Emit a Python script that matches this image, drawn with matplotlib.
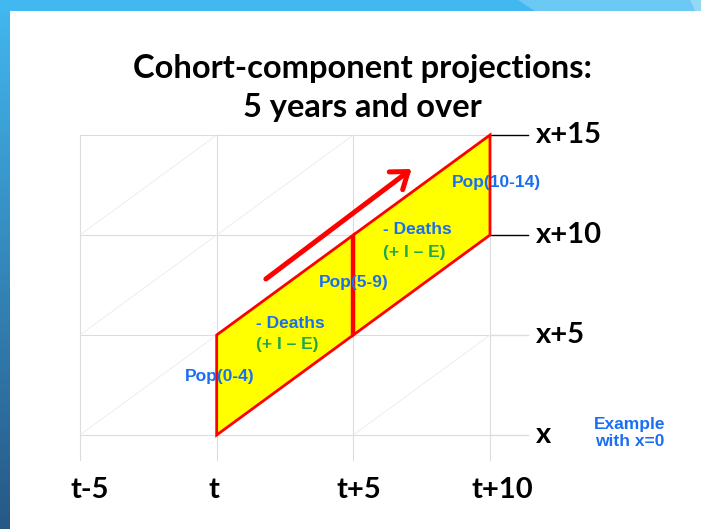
import numpy as np
import matplotlib.pyplot as plt
from matplotlib.patches import Polygon

# time axis and age axis of the Lexis diagram
times = [-5, 0, 5, 10]
time_labels = ["t-5", "t", "t+5", "t+10"]
ages = [0, 5, 10, 15]
age_labels = ["x", "x+5", "x+10", "x+15"]

# the two cohort parallelograms (start time, start age), 5 years wide
cohort_t0 = [0, 5]
cohort_a0 = [0, 5]
step = 5

pop_labels = ["Pop(0-4)", "Pop(5-9)", "Pop(10-14)"]
pop_t = [0.11, 5.0, 10.24]
pop_a = [2.95, 7.6, 12.6]

death_t = [1.43, 6.07]
death_a = [5.6, 10.25]

arrow_start = (1.8, 7.8)
arrow_end = (7.13, 13.3)

BLUE = "#1a6ff0"
GREEN = "#1ea84c"
GRID = "#dcdcdc"
DIAG = "#ebebeb"

fig = plt.figure(figsize=(7.01, 5.29), dpi=100)

# slide decoration (pixel coords)
bg = fig.add_axes([0, 0, 1, 1])
bg.set_xlim(0, 701)
bg.set_ylim(529, 0)
bg.axis("off")
grad = np.linspace(0, 1, 256).reshape(-1, 1)
top_c = np.array([0x42, 0xb8, 0xf0]) / 255.0
bot_c = np.array([0x27, 0x58, 0x86]) / 255.0
img = top_c[None, None, :] * (1 - grad[:, :, None]) + bot_c[None, None, :] * grad[:, :, None]
bg.imshow(img, extent=[0, 10, 529, 0], aspect="auto", zorder=1)
bg.add_patch(Polygon([[0, 0], [701, 0], [701, 11], [0, 11]], closed=True,
                     facecolor="#42b8f0", edgecolor="none", zorder=1))
bg.add_patch(Polygon([[518, 0], [690, 0], [695, 11], [535, 11]], closed=True,
                     facecolor="#6cc9f3", edgecolor="none", zorder=2))
bg.add_patch(Polygon([[690, 0], [701, 0], [701, 11], [695, 11]], closed=True,
                     facecolor="#94d8f7", edgecolor="none", zorder=2))

# main diagram in data coords, axes spanning the figure
ax = fig.add_axes([0, 0, 1, 1])
ax.patch.set_alpha(0)
ax.set_xlim(-7.927, 17.72)
ax.set_ylim(-4.7, 21.75)
ax.axis("off")

# light grid with diagonals
for t in times:
    ax.plot([t, t], [-1.25, ages[-1]], color=GRID, lw=0.8, zorder=1)
for a in ages:
    ax.plot([times[0], times[-1]], [a, a], color=GRID, lw=0.8, zorder=1)
    ext_col = "black" if a >= 10 else GRID
    ax.plot([times[-1], times[-1] + 1.39], [a, a], color=ext_col, lw=1.0, zorder=1)
for t in times[:-1]:
    for a in ages[:-1]:
        ax.plot([t, t + step], [a, a + step], color=DIAG, lw=0.6, zorder=1)

# cohort parallelograms
for t0, a0 in zip(cohort_t0, cohort_a0):
    pts = [[t0, a0], [t0, a0 + step], [t0 + step, a0 + 2 * step], [t0 + step, a0 + step]]
    ax.add_patch(Polygon(pts, closed=True, facecolor="#ffff00", edgecolor="#ff0000",
                         lw=2.0, zorder=3))
# thick boundary between the two
ax.plot([cohort_t0[1], cohort_t0[1]], [cohort_a0[1], cohort_a0[1] + step],
        color="#ff0000", lw=3.2, zorder=4, solid_capstyle="butt")

# ageing arrow
ax.annotate("", xy=arrow_end, xytext=arrow_start,
            arrowprops=dict(arrowstyle="->, head_length=1.1, head_width=0.8",
                            color="#ff0000", lw=3.6, mutation_scale=10,
                            shrinkA=0, shrinkB=0), zorder=5)

# text inside the diagram
for lab, t, a in zip(pop_labels, pop_t, pop_a):
    ax.text(t, a, lab, ha="center", va="center", color=BLUE, fontsize=12.5,
            fontweight="bold", family="Liberation Sans", zorder=6)
for t, a in zip(death_t, death_a):
    ax.text(t, a, "- Deaths", ha="left", va="center", color=BLUE, fontsize=12.5,
            fontweight="bold", family="Liberation Sans", zorder=6)
    ax.text(t, a - 1.1, "(+ I \u2013 E)", ha="left", va="center", color=GREEN,
            fontsize=12.5, fontweight="bold", family="Liberation Sans", zorder=6)

# axis labels
label_shift = [0.35, -0.1, 0.2, 0.45]
for t, lab, dx in zip(times, time_labels, label_shift):
    ax.text(t + dx, -2.75, lab, ha="center", va="center", fontsize=21,
            fontweight="bold", family="Lato", color="black")
for a, lab in zip(ages, age_labels):
    ax.text(11.68, a, lab, ha="left", va="center", fontsize=21,
            fontweight="bold", family="Lato", color="black")

ax.text(15.1, 0.1, "Example\nwith x=0", ha="center", va="center", color=BLUE,
        fontsize=12.5, fontweight="bold", family="Liberation Sans", linespacing=1.15)

fig.text(362 / 701, 1 - 88 / 529, "Cohort-component projections:\n5 years and over",
         ha="center", va="center", fontsize=23.5, fontweight="bold", family="Lato",
         linespacing=1.44)

fig.savefig("out.png", dpi=100)
